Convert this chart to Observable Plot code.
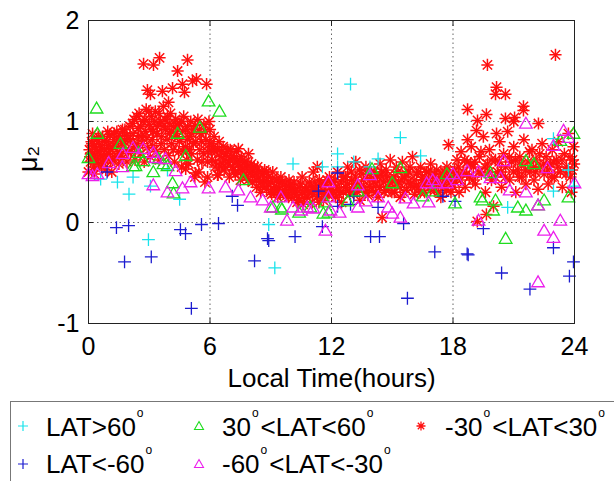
<!DOCTYPE html>
<html><head><meta charset="utf-8">
<script src="https://cdn.jsdelivr.net/npm/d3@7"></script>
<script src="https://cdn.jsdelivr.net/npm/@observablehq/plot@0.6"></script>
<style>
html,body{margin:0;padding:0;background:#fff;}
body{width:614px;height:481px;overflow:hidden;position:relative;font-family:"Liberation Sans",Arial,Helvetica,sans-serif;}
#chart{position:absolute;left:0;top:0;}
#legend{position:absolute;left:10px;top:401px;width:700px;height:140px;border:1px solid #777;box-sizing:border-box;}
.lt{position:absolute;font-size:26px;line-height:27px;white-space:nowrap;color:#000;}
.deg{font-size:12px;position:relative;top:-19px;margin-left:1px;margin-right:2px;}
.sym{position:absolute;}
</style>
</head><body>
<div id="chart"></div>
<div id="legend"></div>
<script>
// ---- data (hours, mu2) ----
const xTicks = [0, 6, 12, 18, 24];
const yTicks = [-1, 0, 1, 2];
const xLabel = "Local Time(hours)";
const yLabel = "μ₂";
const seriesNames = ["LAT>60", "LAT<-60", "30<LAT<60", "-60<LAT<-30", "-30<LAT<30"];

const cyanPts = [[0.6,0.43],[1.43,0.40],[2.2,0.45],[2.0,0.28],[2.96,-0.17],[3.06,0.36],[3.9,0.52],[4.5,0.23],
 [8.9,-0.02],[9.2,-0.45],[10.1,0.58],[11.55,0.55],[12.3,0.68],[12.3,0.55],[13.1,0.6],[12.94,1.37],[13.9,0.55],
 [14.3,0.63],[15.4,0.84],[16.4,0.66],[20.7,0.15],[22.96,0.31],[22.96,0.83],[23.7,0.52],[23.95,0.36]];

const bluePts = [[0.92,0.5],[1.38,-0.05],[1.98,-0.03],[1.78,-0.39],[3.1,-0.34],[4.54,-0.07],[4.79,-0.11],[5.58,-0.02],
 [6.42,-0.01],[5.08,-0.85],[7.1,0.26],[7.36,0.17],[8.2,-0.38],[8.84,-0.16],[8.9,-0.18],[10.2,-0.14],[11.36,0.31],
 [11.55,-0.04],[12.3,0.16],[12.3,0.49],[13.1,0.26],[12.94,0.18],[13.93,-0.14],[14.37,-0.14],[14.3,0.15],[15.56,-0.01],
 [15.75,-0.75],[17.1,-0.29],[17.5,0.26],[18.1,0.21],[18.7,-0.31],[18.75,-0.32],[19.5,-0.06],[20.4,-0.5],[21.8,-0.66],
 [22.96,-0.25],[23.75,-0.53],[23.95,-0.39]];

const greenPts = [[0.0,0.63],[0.44,0.87],[0.4,1.12],[1.58,0.77],[2.2,0.55],[2.32,0.55],[2.47,0.68],[2.72,0.6],[3.2,0.49],
 [3.46,0.62],[3.7,0.57],[3.9,0.55],[4.15,0.38],[4.2,0.28],[4.4,0.87],[4.8,0.65],[5.5,0.93],[5.93,1.19],[6.47,1.09],
 [7.65,0.41],[9.1,0.14],[9.5,0.14],[9.55,0.12],[10.4,0.09],[10.96,0.14],[11.7,0.19],[11.6,0.08],[11.85,0.09],[12.8,0.2],
 [13.3,0.3],[14.0,0.52],[15.0,0.38],[15.4,0.53],[16.5,0.25],[17.0,0.3],[17.7,0.47],[18.1,0.18],[19.36,0.24],[19.45,0.21],
 [19.85,0.48],[20.1,0.21],[19.98,0.11],[20.6,-0.17],[21.2,0.14],[21.6,0.11],[21.6,0.6],[22.0,0.57],[22.2,0.16],[22.5,0.21],
 [23.3,0.8],[23.7,0.24],[23.95,0.87]];

const magentaPts = [[0.0,0.47],[0.2,0.45],[0.44,0.47],[1.0,0.58],[1.67,0.54],[1.7,0.67],[2.2,0.73],[2.7,0.72],[3.2,0.68],
 [3.3,0.63],[3.8,0.62],[4.3,0.5],[3.2,0.36],[3.9,0.29],[4.64,0.33],[5.04,0.39],[5.93,0.33],[6.77,0.34],[7.4,0.31],
 [8.0,0.24],[8.6,0.21],[9.0,0.14],[9.5,0.24],[9.8,0.01],[10.1,0.14],[10.5,0.11],[10.8,0.14],[11.1,0.13],[11.7,-0.09],
 [11.85,0.39],[11.85,0.24],[11.95,0.11],[12.4,0.09],[13.3,0.36],[13.3,0.14],[13.7,0.2],[13.9,0.46],[14.3,0.24],[14.8,0.14],
 [15.0,0.08],[15.4,0.04],[15.65,0.23],[16.05,0.18],[16.7,0.38],[16.8,0.19],[17.0,0.41],[17.2,0.38],[17.7,0.38],[18.0,0.47],
 [18.2,0.41],[18.7,0.5],[19.26,0.49],[19.26,0.01],[19.85,0.43],[20.35,0.43],[20.5,0.6],[20.8,0.31],[21.6,0.29],[21.6,0.97],
 [22.2,0.16],[22.2,-0.6],[22.5,-0.09],[22.67,0.53],[22.96,-0.16],[22.96,0.75],[23.3,0.01],[23.46,0.9],[23.7,0.83],[24.0,0.38]];

const redPts = [
 [2.72,1.57],[3.21,1.56],[3.51,1.63],[4.89,1.61],[4.40,1.50],[2.91,1.31],[3.06,1.27],[3.65,1.30],[4.15,1.33],[4.64,1.37],
 [4.74,1.29],[5.14,1.40],[5.33,1.42],[5.83,1.37],[3.95,1.19],
 [0.05,0.72],[0.1,0.6],[0.15,0.8],[0.2,0.68],[0.25,0.55],[0.3,0.75],[0.35,0.63],[0.4,0.82],[0.45,0.7],[0.5,0.58],
 [0.55,0.77],[0.6,0.66],[0.7,0.85],[0.75,0.62],[0.8,0.73],[0.85,0.52],[0.9,0.8],[1.0,0.68],[1.05,0.87],[1.1,0.6],
 [1.2,0.75],[1.25,0.82],[1.3,0.65],[1.4,0.9],[1.45,0.7],[1.5,0.58],[1.6,0.85],[1.65,0.78],[1.7,0.64],[1.8,0.92],
 [1.85,0.72],[1.9,0.6],[2.0,0.83],[0.0,0.5],[0.3,0.48],[0.65,0.55],[1.15,0.5],[0.2,0.88],[0.95,0.9],
 [2.05,0.95],[2.1,0.7],[2.2,0.88],[2.25,1.02],[2.3,0.62],[2.4,0.78],[2.45,0.93],[2.5,1.08],[2.55,0.68],[2.6,0.85],
 [2.7,1.0],[2.75,0.6],[2.8,0.9],[2.85,1.12],[2.9,0.74],[3.0,0.97],[3.05,0.65],[3.1,1.05],[3.15,0.82],[3.2,0.9],
 [3.3,1.1],[3.35,0.7],[3.4,0.95],[3.5,0.62],[3.55,1.0],[3.6,0.85],[3.7,1.15],[3.75,0.72],[3.8,0.92],[3.9,1.05],
 [3.95,0.66],[4.0,0.88],
 [4.05,1.08],[4.1,0.78],[4.2,0.95],[4.25,0.6],[4.3,1.02],[4.4,0.85],[4.45,0.7],[4.5,0.98],[4.6,0.55],[4.65,0.9],
 [4.7,1.05],[4.8,0.75],[4.85,0.62],[4.9,0.95],[5.0,0.85],[5.05,1.0],[5.1,0.68],[5.2,0.92],[5.25,0.45],[5.3,0.8],
 [5.4,1.02],[5.5,0.72],[5.55,0.88],[5.6,0.6],[5.7,0.97],[5.75,0.4],[5.8,0.82],[5.9,0.7],[6.0,0.92],[5.95,1.0],
 [4.95,0.58],[5.45,0.5],[4.8,0.53],[5.28,0.49],[5.88,0.45],[6.37,0.47],
 [6.05,0.78],[6.1,0.62],[6.2,0.85],[6.25,0.55],[6.3,0.7],[6.4,0.47],[6.45,0.8],[6.5,0.65],[6.6,0.58],[6.65,0.75],
 [6.7,0.52],[6.8,0.68],[6.9,0.6],[6.95,0.45],[7.0,0.72],[7.1,0.55],[7.2,0.63],[7.25,0.48],[7.3,0.7],[7.4,0.58],
 [7.5,0.42],[7.55,0.65],[7.6,0.52],[7.7,0.6],[7.8,0.45],[7.85,0.55],[7.9,0.68],[8.0,0.5],[7.4,0.73],
 [8.05,0.58],[8.1,0.4],[8.2,0.5],[8.3,0.35],[8.35,0.55],[8.4,0.45],[8.5,0.3],[8.6,0.48],[8.65,0.38],[8.7,0.52],
 [8.8,0.33],[8.9,0.45],[9.0,0.4],[9.05,0.28],[9.1,0.5],[9.2,0.36],[9.3,0.42],[9.35,0.25],[9.4,0.33],[9.5,0.45],
 [9.6,0.3],[9.7,0.38],[9.8,0.27],[9.9,0.42],[10.0,0.33],
 [10.1,0.25],[10.15,0.4],[10.2,0.3],[10.3,0.2],[10.4,0.35],[10.5,0.28],[10.55,0.45],[10.6,0.18],[10.7,0.32],[10.8,0.25],
 [10.9,0.4],[11.0,0.3],[11.05,0.2],[11.1,0.5],[11.2,0.35],[11.3,0.26],[11.4,0.42],[11.5,0.3],[11.6,0.22],[11.7,0.38],
 [11.8,0.28],[11.9,0.45],[12.0,0.33],[11.3,0.55],
 [12.1,0.4],[12.2,0.25],[12.3,0.5],[12.4,0.32],[12.5,0.2],[12.6,0.45],[12.7,0.35],[12.8,0.55],[12.9,0.28],[13.0,0.42],
 [13.1,0.3],[13.2,0.6],[13.3,0.38],[13.4,0.22],[13.5,0.48],[13.6,0.35],[13.7,0.55],[13.8,0.27],[13.9,0.43],[14.0,0.32],
 [14.1,0.5],[14.2,0.38],[14.3,0.25],[14.4,0.58],[14.5,0.45],[14.6,0.3],[14.7,0.52],[14.8,0.36],[14.9,0.62],[15.0,0.42],
 [14.5,0.05],
 [15.1,0.3],[15.2,0.55],[15.3,0.4],[15.4,0.25],[15.5,0.6],[15.6,0.45],[15.7,0.32],[15.8,0.5],[15.9,0.38],[16.0,0.65],
 [16.1,0.28],[16.2,0.48],[16.3,0.35],[16.4,0.55],[16.5,0.42],[16.6,0.3],[16.7,0.5],[16.8,0.38],[16.9,0.58],[17.0,0.45],
 [17.1,0.32],[17.2,0.52],[17.3,0.4],[17.4,0.25],[17.5,0.48],[17.6,0.35],[17.7,0.55],[17.8,0.42],[17.9,0.3],[18.0,0.5],
 [18.1,0.4],[18.2,0.62],[18.3,0.3],[18.4,0.7],[18.5,0.5],[18.6,0.35],[18.7,0.6],[18.8,0.45],[18.9,0.75],[19.0,0.55],
 [19.1,0.38],[19.2,0.01],[19.3,0.65],[19.4,0.48],[19.5,0.85],[19.6,0.3],[19.65,0.08],[19.7,0.58],[19.8,0.72],[19.9,0.42],
 [20.0,0.16],[20.1,0.62],[20.2,0.5],[20.3,0.8],[20.4,0.35],[20.5,0.68],[20.6,0.55],[20.7,0.9],[20.8,0.42],[20.9,0.6],
 [21.0,0.75],[21.1,0.3],[21.2,0.52],[21.3,0.65],[21.4,0.45],[21.5,0.82],[21.6,0.38],[21.7,0.6],[21.8,0.5],[21.9,0.72],
 [22.0,0.42],[22.1,0.62],[22.2,0.33],[22.3,0.55],[22.4,0.78],[22.5,0.48],[22.6,0.65],[22.7,0.38],[22.8,0.58],[22.9,0.72],
 [23.0,0.45],[23.1,0.62],[23.2,0.8],[23.3,0.5],[23.4,0.35],[23.5,0.68],[23.6,0.55],[23.7,0.88],[23.8,0.45],[23.9,0.62],
 [23.95,0.75],[23.85,0.3],
 [19.70,1.56],[23.06,1.66],[20.15,1.34],[20.1,1.27],[20.59,1.27],[18.72,1.12],[19.65,1.07],[21.48,1.15],[21.48,1.11],
 [21.04,1.04],[20.59,1.03],[19.21,1.01],[22.22,0.98],[19.16,0.91],[20.15,0.88],[17.78,0.77],[18.72,0.82],[21.0,1.0],
 [0.08,0.65],[0.18,0.78],[0.28,0.62],[0.38,0.72],[0.48,0.85],[0.58,0.7],[0.68,0.6],[0.78,0.8],[0.88,0.67],[0.98,0.76],
 [1.08,0.72],[1.18,0.62],[1.28,0.88],[1.38,0.78],[1.48,0.82],[1.58,0.68],[1.68,0.92],[1.78,0.8],[1.88,0.86],[1.98,0.7],
 [2.08,0.82],[2.18,0.98],[2.28,0.75],[2.38,1.05],[2.48,0.86],[2.58,0.95],[2.68,0.78],[2.78,1.02],[2.88,0.84],[2.98,1.1],
 [3.08,0.92],[3.18,0.76],[3.28,1.0],[3.38,0.88],[3.48,1.08],[3.58,0.78],[3.68,0.95],[3.78,1.02],[3.88,0.82],[3.98,0.98],
 [4.08,0.9],[4.18,0.72],[4.28,0.88],[4.38,0.96],[4.48,0.8],[4.58,1.0],[4.68,0.7],[4.78,0.92],[4.88,0.82],[4.98,0.72],
 [5.08,0.88],[5.18,0.78],[5.28,0.96],[5.38,0.62],[5.48,0.9],[5.58,0.8],[5.68,0.68],[5.78,0.9],[5.88,0.6],[5.98,0.78],
 [6.08,0.7],[6.18,0.75],[6.28,0.6],[6.38,0.72],[6.48,0.55],[6.58,0.7],[6.68,0.62],[6.78,0.55],[6.88,0.72],[6.98,0.62],
 [7.08,0.66],[7.18,0.52],[7.28,0.6],[7.38,0.5],[7.48,0.62],[7.58,0.56],[7.68,0.48],[7.78,0.6],[7.88,0.42],[7.98,0.56],
 [8.08,0.46],[8.18,0.55],[8.28,0.42],[8.38,0.5],[8.48,0.4],[8.58,0.36],[8.68,0.44],[8.78,0.5],[8.88,0.38],[8.98,0.3],
 [9.08,0.44],[9.18,0.3],[9.28,0.35],[9.38,0.4],[9.48,0.28],[9.58,0.4],[9.68,0.32],[9.78,0.36],[9.88,0.25],[9.98,0.38],
 [10.08,0.3],[10.18,0.35],[10.28,0.28],[10.38,0.22],[10.48,0.38],[10.58,0.3],[10.68,0.24],[10.78,0.35],[10.88,0.3],[10.98,0.36],
 [11.08,0.28],[11.18,0.4],[11.28,0.32],[11.38,0.2],[11.48,0.38],[11.58,0.32],[11.68,0.28],[11.78,0.42],[11.88,0.3],[11.98,0.4],
 [12.08,0.3],[12.18,0.42],[12.28,0.35],[12.38,0.28],[12.48,0.4],[12.58,0.3],[12.68,0.45],[12.78,0.38],[12.88,0.32],[12.98,0.5],
 [13.08,0.38],[13.18,0.45],[13.28,0.3],[13.38,0.52],[13.48,0.35],[13.58,0.42],[13.68,0.3],[13.78,0.48],[13.88,0.36],[13.98,0.5],
 [14.08,0.4],[14.18,0.3],[14.28,0.45],[14.38,0.35],[14.48,0.5],[14.58,0.4],[14.68,0.32],[14.78,0.46],[14.88,0.4],[14.98,0.3],
 [15.08,0.45],[15.18,0.38],[15.28,0.5],[15.38,0.35],[15.48,0.42],[15.58,0.3],[15.68,0.48],[15.78,0.4],[15.88,0.55],[15.98,0.35],
 [16.08,0.42],[16.18,0.36],[16.28,0.5],[16.38,0.3],[16.48,0.45],[16.58,0.38],[16.68,0.4],[16.78,0.5],[16.88,0.32],[16.98,0.4],
 [17.08,0.48],[17.18,0.38],[17.28,0.3],[17.38,0.45],[17.48,0.38],[17.58,0.5],[17.68,0.32],[17.78,0.46],[17.88,0.4],[17.98,0.35],
 [18.08,0.52],[18.18,0.45],[18.28,0.55],[18.38,0.42],[18.58,0.62],[18.68,0.48],[18.88,0.58],[18.98,0.42],[19.08,0.6],[19.28,0.5],
 [19.38,0.7],[19.58,0.55],[19.78,0.5],[19.88,0.62],[20.08,0.45],[20.28,0.6],[20.38,0.5],[20.58,0.45],[20.78,0.65],[20.98,0.5],
 [21.08,0.62],[21.28,0.45],[21.38,0.58],[21.58,0.52],[21.78,0.7],[21.98,0.55],[22.08,0.5],[22.28,0.68],[22.48,0.58],[22.68,0.52],
 [22.88,0.45],[22.98,0.6],[23.18,0.55],[23.38,0.62],[23.58,0.48],[23.78,0.65],[23.88,0.52],[23.98,0.58]
];

// ---- styles ----
const colors = {cyan:"#19e3ec", blue:"#1c1cd0", green:"#1edc1e", magenta:"#ec1eec", red:"#ff1010"};
const font = '"Liberation Sans", Arial, Helvetica, sans-serif';
const toRows = pts => pts.map(([x, y]) => ({x, y}));
const intFmt = d => String(d);

const chart = Plot.plot({
  width: 614, height: 395,
  marginLeft: 88, marginRight: 40, marginTop: 20, marginBottom: 72,
  style: {fontFamily: font, background: "#fff", color: "#000", overflow: "visible"},
  x: {domain: [0, 24]},
  y: {domain: [-1, 2]},
  marks: [
    Plot.gridX([6, 12, 18], {stroke: "#666", strokeOpacity: 1, strokeWidth: 1, strokeDasharray: "1.5,3"}),
    Plot.gridY([0, 1], {stroke: "#666", strokeOpacity: 1, strokeWidth: 1, strokeDasharray: "1.5,3"}),
    Plot.dot(toRows(redPts), {x: "x", y: "y", symbol: "plus", r: 4, stroke: colors.red, fill: "none", strokeWidth: 1.5}),
    Plot.dot(toRows(redPts), {x: "x", y: "y", symbol: "times", r: 4.3, stroke: colors.red, fill: "none", strokeWidth: 1.5}),
    Plot.dot(toRows(cyanPts), {x: "x", y: "y", symbol: "plus", r: 4.2, stroke: colors.cyan, fill: "none", strokeWidth: 1.3}),
    Plot.dot(toRows(bluePts), {x: "x", y: "y", symbol: "plus", r: 4.2, stroke: colors.blue, fill: "none", strokeWidth: 1.3}),
    Plot.dot(toRows(greenPts), {x: "x", y: "y", symbol: "triangle2", r: 6, stroke: colors.green, fill: "none", strokeWidth: 1.3}),
    Plot.dot(toRows(magentaPts), {x: "x", y: "y", symbol: "triangle2", r: 6, stroke: colors.magenta, fill: "none", strokeWidth: 1.3}),
    Plot.frame({stroke: "#222", strokeWidth: 1}),
    Plot.axisX(xTicks, {anchor: "bottom", tickSize: -5, tickPadding: 19, fontSize: 25, label: null, stroke: "#222", tickFormat: intFmt}),
    Plot.axisX(xTicks, {anchor: "top", tickSize: -5, tickFormat: () => "", label: null, stroke: "#222"}),
    Plot.axisY(yTicks, {anchor: "left", tickSize: -5, tickPadding: 14, fontSize: 25, label: null, stroke: "#222", tickFormat: intFmt}),
    Plot.axisY(yTicks, {anchor: "right", tickSize: -5, tickFormat: () => "", label: null, stroke: "#222"}),
    Plot.text([xLabel], {frameAnchor: "bottom", lineAnchor: "top", dy: 45, fontSize: 26, fill: "#000"}),
    Plot.text([yLabel], {frameAnchor: "left", rotate: -90, dx: -60, fontSize: 27, fill: "#000"})
  ]
});
document.getElementById("chart").appendChild(chart);

// ---- legend (HTML, real text) ----
const legend = document.getElementById("legend");
const L0 = 10, T0 = 401;
function sym(kind, color, cx, cy) {
  const s = 14;
  let inner = "";
  if (kind === "plus") inner = `<path d="M2,7H12M7,2V12" stroke="${color}" stroke-width="1.2" fill="none"/>`;
  if (kind === "tri") inner = `<path d="M7,2.5L11.5,10.5H2.5Z" stroke="${color}" stroke-width="1.1" fill="none"/>`;
  if (kind === "star") inner = `<path d="M7,2.5V11.5M2.5,7H11.5M3.8,3.8L10.2,10.2M10.2,3.8L3.8,10.2" stroke="${color}" stroke-width="1.3" fill="none"/>`;
  const el = document.createElement("div");
  el.className = "sym";
  el.style.left = (cx - s / 2 - L0 - 1) + "px";
  el.style.top = (cy - s / 2 - T0 - 1) + "px";
  el.innerHTML = `<svg width="${s}" height="${s}">${inner}</svg>`;
  legend.appendChild(el);
}
function label(html, left, top) {
  const el = document.createElement("div");
  el.className = "lt";
  el.style.left = (left - L0 - 1) + "px";
  el.style.top = (top - T0 - 1) + "px";
  el.innerHTML = html;
  legend.appendChild(el);
}
const deg = '<span class="deg">o</span>';
const fmt = s => s.replace(/&/g, "&amp;").replace(/</g, "&lt;").replace(/>/g, "&gt;").replace(/(\d0)/g, "$1" + deg);
sym("plus", colors.cyan, 23, 426);   label(fmt(seriesNames[0]), 46, 414);
sym("plus", colors.blue, 23, 464);   label(fmt(seriesNames[1]), 46, 451);
sym("tri", colors.green, 199, 426);  label(fmt(seriesNames[2]), 222, 414);
sym("tri", colors.magenta, 199, 464); label(fmt(seriesNames[3]), 222, 451);
sym("star", colors.red, 421, 426);   label(fmt(seriesNames[4]), 445, 414);
</script>
</body></html>
